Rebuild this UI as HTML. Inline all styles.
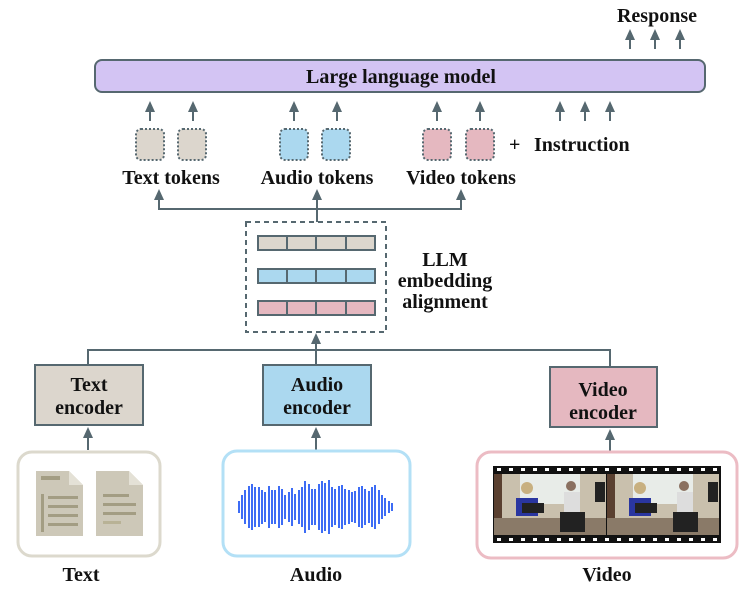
<!DOCTYPE html>
<html><head><meta charset="utf-8"><style>
body{margin:0;background:#fff}
text{font-family:"Liberation Serif",serif;font-weight:bold;fill:#111}
</style></head><body>
<svg width="748" height="591" viewBox="0 0 748 591" xmlns="http://www.w3.org/2000/svg">
<g stroke="#566870" stroke-width="2" fill="none">
<line x1="630" y1="49" x2="630" y2="38"/>
<line x1="655" y1="49" x2="655" y2="38"/>
<line x1="680" y1="49" x2="680" y2="38"/>
<line x1="150" y1="121" x2="150" y2="110"/>
<line x1="193" y1="121" x2="193" y2="110"/>
<line x1="294" y1="121" x2="294" y2="110"/>
<line x1="337" y1="121" x2="337" y2="110"/>
<line x1="437" y1="121" x2="437" y2="110"/>
<line x1="480" y1="121" x2="480" y2="110"/>
<line x1="560" y1="121" x2="560" y2="110"/>
<line x1="585" y1="121" x2="585" y2="110"/>
<line x1="610" y1="121" x2="610" y2="110"/>
<polyline points="159,198 159,209 461,209 461,198"/>
<line x1="317" y1="222" x2="317" y2="198"/>
<polyline points="88,365 88,350 610,350 610,367"/>
<line x1="316" y1="365" x2="316" y2="342"/>
<line x1="88" y1="450" x2="88" y2="436"/>
<line x1="316" y1="450" x2="316" y2="436"/>
<line x1="610" y1="451" x2="610" y2="438"/>
</g>
<g fill="#566870">
<path d="M625,40 L630,29 L635,40Z M650,40 L655,29 L660,40Z M675,40 L680,29 L685,40Z"/>
<path d="M145,112 L150,101 L155,112Z M188,112 L193,101 L198,112Z M289,112 L294,101 L299,112Z M332,112 L337,101 L342,112Z M432,112 L437,101 L442,112Z M475,112 L480,101 L485,112Z M555,112 L560,101 L565,112Z M580,112 L585,101 L590,112Z M605,112 L610,101 L615,112Z"/>
<path d="M154,200 L159,189 L164,200Z M312,200 L317,189 L322,200Z M456,200 L461,189 L466,200Z"/>
<path d="M311,344 L316,333 L321,344Z M83,438 L88,427 L93,438Z M311,438 L316,427 L321,438Z M605,440 L610,429 L615,440Z"/>
</g>
<rect x="95" y="60" width="610" height="32" rx="7" fill="#d3c4f3" stroke="#566870" stroke-width="2"/>
<text x="401" y="83" font-size="20" text-anchor="middle">Large language model</text>
<text x="657" y="22" font-size="20" text-anchor="middle">Response</text>
<g stroke="#566870" stroke-width="2" stroke-dasharray="2,2">
<rect x="136" y="129" width="28" height="31" rx="5" fill="#dcd6cd"/>
<rect x="178" y="129" width="28" height="31" rx="5" fill="#dcd6cd"/>
<rect x="280" y="129" width="28" height="31" rx="5" fill="#abd8ef"/>
<rect x="322" y="129" width="28" height="31" rx="5" fill="#abd8ef"/>
<rect x="423" y="129" width="28" height="31" rx="5" fill="#e5b8c0"/>
<rect x="466" y="129" width="28" height="31" rx="5" fill="#e5b8c0"/>
</g>
<text x="509" y="151" font-size="20">+</text>
<text x="534" y="151" font-size="20">Instruction</text>
<text x="171" y="184" font-size="20" text-anchor="middle">Text tokens</text>
<text x="317" y="184" font-size="20" text-anchor="middle">Audio tokens</text>
<text x="461" y="184" font-size="20" text-anchor="middle">Video tokens</text>
<rect x="246" y="222" width="140" height="110" fill="none" stroke="#566870" stroke-width="2" stroke-dasharray="5,4"/>
<g stroke="#566870" stroke-width="2">
<rect x="258" y="236" width="117" height="14" fill="#dcd6cd"/>
<rect x="258" y="269" width="117" height="14" fill="#abd8ef"/>
<rect x="258" y="301" width="117" height="14" fill="#e5b8c0"/>
<path d="M287,236v14M316,236v14M346,236v14M287,269v14M316,269v14M346,269v14M287,301v14M316,301v14M346,301v14"/>
</g>
<text x="445" y="266" font-size="20" text-anchor="middle">LLM</text>
<text x="445" y="287" font-size="20" text-anchor="middle">embedding</text>
<text x="445" y="308" font-size="20" text-anchor="middle">alignment</text>
<g stroke="#566870" stroke-width="2">
<rect x="35" y="365" width="108" height="60" fill="#dcd6cd"/>
<rect x="263" y="365" width="108" height="60" fill="#abd8ef"/>
<rect x="550" y="367" width="107" height="60" fill="#e5b8c0"/>
</g>
<text x="89" y="391" font-size="20" text-anchor="middle">Text</text>
<text x="89" y="414" font-size="20" text-anchor="middle">encoder</text>
<text x="317" y="391" font-size="20" text-anchor="middle">Audio</text>
<text x="317" y="414" font-size="20" text-anchor="middle">encoder</text>
<text x="603" y="396" font-size="20" text-anchor="middle">Video</text>
<text x="603" y="419" font-size="20" text-anchor="middle">encoder</text>
<rect x="18" y="452" width="142" height="104" rx="14" fill="#fff" stroke="#dcd9cd" stroke-width="3"/>
<rect x="223" y="451" width="187" height="105" rx="14" fill="#fff" stroke="#b3e0f6" stroke-width="3"/>
<rect x="477" y="452" width="260" height="106" rx="14" fill="#fff" stroke="#ecbcc4" stroke-width="3"/>
<path d="M36,471 H69 L83,485 V536 H36 Z" fill="#cdc8b8"/>
<path d="M69,471 L83,485 H69 Z" fill="#e4e1d6"/>
<rect x="41" y="476" width="19" height="4" fill="#a39d83"/>
<rect x="41" y="494" width="3" height="38" fill="#a39d83"/>
<rect x="48" y="496" width="30" height="3" fill="#a39d83"/>
<rect x="48" y="505" width="30" height="3" fill="#a39d83"/>
<rect x="48" y="514" width="30" height="3" fill="#a39d83"/>
<rect x="48" y="523" width="30" height="3" fill="#a39d83"/>
<path d="M96,471 H129 L143,485 V536 H96 Z" fill="#cdc8b8"/>
<path d="M129,471 L143,485 H129 Z" fill="#e4e1d6"/>
<rect x="103" y="494" width="26" height="3" fill="#a39d83"/>
<rect x="103" y="503" width="33" height="3" fill="#a39d83"/>
<rect x="103" y="512" width="33" height="3" fill="#a39d83"/>
<rect x="103" y="521" width="18" height="3" fill="#b8b296"/>
<g stroke="#3d6cf5" stroke-width="2">
<path d="M239,501v12M242,495v24M245,490v34M249,486v42M252,484v46M255,487v40M259,487v40M262,490v34M265,492v30M269,486v42M272,490v34M275,490v34M279,486v42M282,489v36M285,495v24M289,492v30M292,488v38M295,494v26M299,490v34M302,487v40M305,481v52M309,484v46M312,489v36M315,489v36M319,484v46M322,481v52M325,483v48M329,480v54M332,487v40M335,489v36M339,486v42M342,485v44M345,489v36M349,490v34M352,492v30M355,491v32M359,487v40M362,486v42M365,489v36M369,491v32M372,487v40M375,485v44M379,490v34M382,495v24M385,498v18M389,501v12M392,503v8"/>
</g>
<rect x="493" y="466" width="228" height="77" fill="#111"/>
<g fill="#fff">
<path d="M497,468h4v3h-4zM509,468h4v3h-4zM521,468h4v3h-4zM533,468h4v3h-4zM545,468h4v3h-4zM557,468h4v3h-4zM569,468h4v3h-4zM581,468h4v3h-4zM593,468h4v3h-4zM605,468h4v3h-4zM617,468h4v3h-4zM629,468h4v3h-4zM641,468h4v3h-4zM653,468h4v3h-4zM665,468h4v3h-4zM677,468h4v3h-4zM689,468h4v3h-4zM701,468h4v3h-4zM713,468h4v3h-4z"/>
<path d="M497,538h4v3h-4zM509,538h4v3h-4zM521,538h4v3h-4zM533,538h4v3h-4zM545,538h4v3h-4zM557,538h4v3h-4zM569,538h4v3h-4zM581,538h4v3h-4zM593,538h4v3h-4zM605,538h4v3h-4zM617,538h4v3h-4zM629,538h4v3h-4zM641,538h4v3h-4zM653,538h4v3h-4zM665,538h4v3h-4zM677,538h4v3h-4zM689,538h4v3h-4zM701,538h4v3h-4zM713,538h4v3h-4z"/>
</g>
<g id="fr">
<rect x="494" y="474" width="112" height="61" fill="#c9c0ad"/>
<rect x="520" y="474" width="60" height="30" fill="#e8ece8"/>
<rect x="494" y="474" width="8" height="61" fill="#5a4030"/>
<rect x="494" y="518" width="112" height="17" fill="#8a7a68"/>
<circle cx="527" cy="488" r="6" fill="#c8b080"/>
<path d="M516,498 h22 v18 h-22z" fill="#2a36a0"/>
<path d="M522,503 h22 v10 h-22z" fill="#222"/>
<circle cx="571" cy="486" r="5" fill="#8a7060"/>
<rect x="564" y="492" width="16" height="20" fill="#ddd"/>
<path d="M560,512 h25 v20 h-25z" fill="#222"/>
<rect x="595" y="482" width="10" height="20" fill="#222"/>
</g>
<use href="#fr" x="113"/>
<text x="81" y="581" font-size="20" text-anchor="middle">Text</text>
<text x="316" y="581" font-size="20" text-anchor="middle">Audio</text>
<text x="607" y="581" font-size="20" text-anchor="middle">Video</text>
</svg>
</body></html>
